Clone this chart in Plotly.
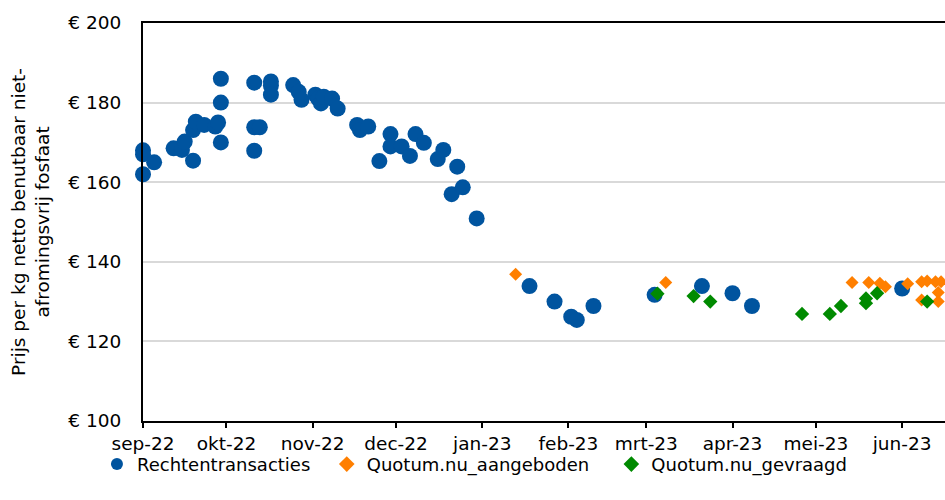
import plotly.graph_objects as go

# ---- data ----
blue_dates = ["2022-09-01", "2022-09-01", "2022-09-01", "2022-09-05", "2022-09-12",
              "2022-09-15", "2022-09-16", "2022-09-19", "2022-09-19", "2022-09-20",
              "2022-09-23", "2022-09-27", "2022-09-28", "2022-09-29", "2022-09-29",
              "2022-09-29", "2022-10-11", "2022-10-11", "2022-10-11", "2022-10-13",
              "2022-10-17", "2022-10-17", "2022-10-17", "2022-10-25", "2022-10-27",
              "2022-10-28", "2022-11-02", "2022-11-03", "2022-11-04", "2022-11-05",
              "2022-11-08", "2022-11-10", "2022-11-17", "2022-11-18", "2022-11-21",
              "2022-11-25", "2022-11-29", "2022-11-29", "2022-12-03", "2022-12-06",
              "2022-12-08", "2022-12-11", "2022-12-16", "2022-12-18", "2022-12-21",
              "2022-12-23", "2022-12-25", "2022-12-30", "2023-01-18", "2023-01-27",
              "2023-02-02", "2023-02-04", "2023-02-10", "2023-03-04", "2023-03-21",
              "2023-04-01", "2023-04-08", "2023-06-01"]
blue_values = [168, 167, 162, 165, 168.5,
               168.1, 170.2, 173.1, 165.4, 175.2,
               174.4, 174, 175, 186, 180,
               170, 185, 173.8, 167.9, 173.8,
               185.3, 184.3, 182, 184.4, 182.7,
               180.7, 182, 181, 179.8, 181.5,
               181, 178.5, 174.4, 173.1, 174,
               165.3, 172.1, 169, 169, 166.6,
               172.1, 169.9, 165.8, 168.1, 157,
               163.9, 158.7, 150.9, 133.9, 130,
               126.2, 125.4, 128.9, 131.7, 133.9,
               132.1, 128.9, 133.3]

orange_dates = ["2023-01-13", "2023-03-08", "2023-05-14", "2023-05-20", "2023-05-24",
                "2023-05-26", "2023-06-03", "2023-06-08", "2023-06-08", "2023-06-10",
                "2023-06-13", "2023-06-14", "2023-06-14", "2023-06-15"]
orange_values = [136.9, 134.8, 134.8, 134.8, 134.6,
                 133.7, 134.5, 135, 130.4, 135.2,
                 135, 132.3, 130, 135]

green_dates = ["2023-03-05", "2023-03-18", "2023-03-24", "2023-04-26", "2023-05-06",
               "2023-05-10", "2023-05-19", "2023-05-19", "2023-05-23", "2023-06-10"]
green_values = [132, 131.4, 130, 126.9, 126.9,
                128.9, 130.8, 129.6, 132.1, 130]

month_ticks = ["2022-09-01", "2022-10-01", "2022-11-01", "2022-12-01", "2023-01-01",
               "2023-02-01", "2023-03-01", "2023-04-01", "2023-05-01", "2023-06-01"]
month_labels = ["sep-22", "okt-22", "nov-22", "dec-22", "jan-23",
                "feb-23", "mrt-23", "apr-23", "mei-23", "jun-23"]

BLUE = "#00549F"
ORANGE = "#FF7F00"
GREEN = "#008A00"
FONT = "DejaVu Sans"
NB = "\u00a0"

fig = go.Figure()
fig.add_trace(go.Scatter(x=blue_dates, y=blue_values, mode="markers",
                         name="Rechtentransacties" + NB * 2,
                         marker=dict(color=BLUE, size=16, symbol="circle"),
                         cliponaxis=False))
fig.add_trace(go.Scatter(x=orange_dates, y=orange_values, mode="markers",
                         name="Quotum.nu_aangeboden" + NB * 3,
                         marker=dict(color=ORANGE, size=10, symbol="diamond")))
fig.add_trace(go.Scatter(x=green_dates, y=green_values, mode="markers",
                         name="Quotum.nu_gevraagd",
                         marker=dict(color=GREEN, size=11, symbol="diamond")))

fig.update_layout(
    width=945, height=500,
    margin=dict(l=143, r=0, t=23, b=79),
    paper_bgcolor="white", plot_bgcolor="white",
    font=dict(family=FONT, size=18, color="black"),
    showlegend=True,
    legend=dict(orientation="h", x=-0.0574, xanchor="left", y=-0.109, yanchor="middle",
                bgcolor="rgba(0,0,0,0)",
                font=dict(family=FONT, size=18, color="black"),
                itemsizing="constant"),
    xaxis=dict(type="date", range=["2022-09-01", "2023-06-16 10:00"],
               tickvals=month_ticks, ticktext=month_labels,
               showgrid=False, showline=True, linecolor="black", linewidth=2,
               mirror=True, ticks="outside", ticklen=5, tickwidth=1.5,
               tickcolor="black", zeroline=False,
               tickfont=dict(family=FONT, size=18.5, color="black")),
    yaxis=dict(range=[100, 200], dtick=20, tickprefix="€ ",
               showgrid=True, gridcolor="#d9d9d9", gridwidth=1.5,
               showline=True, linecolor="black", linewidth=2,
               ticks="", zeroline=False, ticklabelstandoff=16,
               tickfont=dict(family=FONT, size=18.5, color="black")),
    annotations=[dict(text="Prijs per kg netto benutbaar niet-<br>afromingsvrij fosfaat",
                      textangle=-90, xref="paper", yref="paper",
                      x=-0.141, y=0.5, xanchor="center", yanchor="middle",
                      showarrow=False,
                      font=dict(family=FONT, size=18.5, color="black"))],
)

fig.write_html("out.html",
               config={"displayModeBar": False},
               post_script="document.body.style.margin='0';document.body.style.overflow='hidden';")
